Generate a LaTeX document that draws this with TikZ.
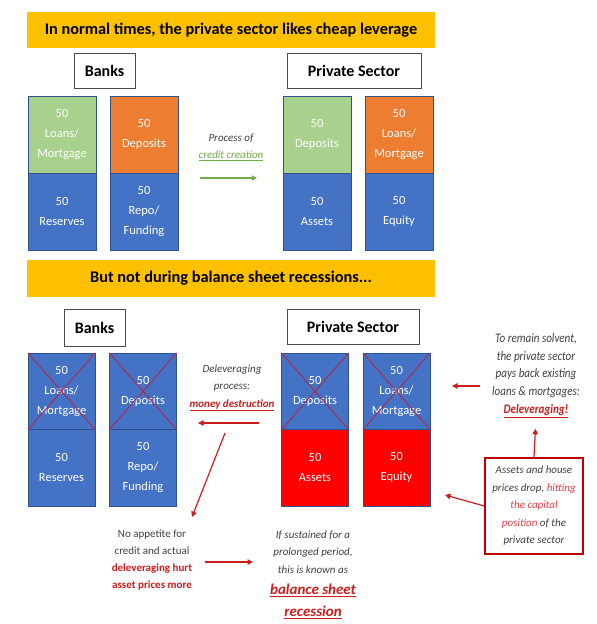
\documentclass[tikz,border=0pt]{standalone}
\usepackage{fontspec}
\setmainfont{Carlito}
\newfontfamily\narrowfont[FakeStretch=0.85]{Carlito}
\usepackage{xcolor}
\usetikzlibrary{arrows.meta,positioning}
\definecolor{bannery}{HTML}{FFC000}
\definecolor{cellblue}{HTML}{4472C4}
\definecolor{cellgreen}{HTML}{A9D18E}
\definecolor{cellorange}{HTML}{ED7D31}
\definecolor{cellred}{HTML}{FF0000}
\definecolor{cellline}{HTML}{2F528F}
\definecolor{xred}{HTML}{B0284A}
\definecolor{txtgray}{HTML}{404040}
\definecolor{arrred}{HTML}{CC1E1E}
\definecolor{arrgreen}{HTML}{70AD47}
\definecolor{boxred}{HTML}{C00000}
\definecolor{pinkred}{HTML}{E8404A}

\tikzset{
  banner/.style={fill=bannery, minimum width=408pt, minimum height=36pt, inner sep=0pt,
    font=\fontsize{16.3}{19}\selectfont\bfseries},
  sectorbox/.style={draw=black!70, line width=0.6pt, fill=white, minimum height=35pt,
    inner sep=0pt, font=\fontsize{16}{19}\selectfont\bfseries},
  cell/.style={draw=cellline, line width=0.6pt, text=white, align=center, outer sep=0pt,
    minimum width=68pt, minimum height=77pt, inner sep=0pt, font=\fontsize{12.5}{20}\selectfont},
  note/.style={align=center, text=txtgray, inner sep=0pt, font=\fontsize{11}{17.5}\selectfont\itshape},
  plainnote/.style={note, font=\fontsize{11}{17}\selectfont\upshape},
  redarrow/.style={draw=arrred, line width=1.2pt, -{Triangle[length=5.5pt,width=5.5pt]}},
  greenarrow/.style={draw=arrgreen, line width=1.1pt, -{Triangle[length=5pt,width=5pt]}},
  xline/.style={draw=xred, line width=0.9pt}
}

\begin{document}
\begin{tikzpicture}[x=1pt, y=-1pt]
\fill[white] (0,0) rectangle (597,624);
\useasboundingbox (0,0) rectangle (597,624);

% normal times
\node[banner] (ban1) at (231,30) {In normal times, the private sector likes cheap leverage};
\node[sectorbox, minimum width=61pt] (banks1) at (104.5,71) {Banks};
\node[sectorbox, minimum width=134pt] (ps1) at (354,71) {Private Sector};

\node[cell, fill=cellgreen] (b1top) at (62,134.5) {50\\Loans/\\Mortgage};
\node[cell, fill=cellblue, below=0pt of b1top] (b1bot) {50\\Reserves};
\node[cell, fill=cellorange] (b2top) at (144,134.5) {50\\Deposits};
\node[cell, fill=cellblue, below=0pt of b2top] (b2bot) {50\\Repo/\\Funding};
\node[cell, fill=cellgreen] (p1top) at (317,134.5) {50\\Deposits};
\node[cell, fill=cellblue, below=0pt of p1top] (p1bot) {50\\Assets};
\node[cell, fill=cellorange] (p2top) at (399,134.5) {50\\Loans/\\Mortgage};
\node[cell, fill=cellblue, below=0pt of p2top] (p2bot) {50\\Equity};

\node[note] (proc) at (231,147.5) {Process of\\\textcolor{arrgreen}{\underline{credit creation}}};
\coordinate (cc1) at (200,178);
\coordinate (cc2) at (257,178);
\draw[greenarrow] (cc1) -- (cc2);

% balance sheet recessions
\node[banner, minimum height=37pt] (ban2) at (231,278.5) {But not during balance sheet recessions...};
\node[sectorbox, minimum width=61pt, minimum height=37pt] (banks2) at (94.5,327.5) {Banks};
\node[sectorbox, minimum width=132pt] (ps2) at (353,326.5) {Private Sector};

\node[cell, fill=cellblue, minimum width=67pt, minimum height=76.5pt] (b3top) at (61.5,391.25) {50\\Loans/\\Mortgage};
\node[cell, fill=cellblue, minimum width=67pt, minimum height=76.5pt, below=0pt of b3top] (b3bot) {50\\Reserves};
\node[cell, fill=cellblue, minimum width=67pt, minimum height=76.5pt] (b4top) at (143,391.25) {50\\Deposits};
\node[cell, fill=cellblue, minimum width=67pt, minimum height=76.5pt, below=0pt of b4top] (b4bot) {50\\Repo/\\Funding};
\node[cell, fill=cellblue, minimum width=67pt, minimum height=76.5pt] (p3top) at (315,391.25) {50\\Deposits};
\node[cell, fill=cellred, minimum width=67pt, minimum height=76.5pt, below=0pt of p3top] (p3bot) {50\\Assets};
\node[cell, fill=cellblue, minimum width=67pt, minimum height=76.5pt] (p4top) at (396.5,391.25) {50\\Loans/\\Mortgage};
\node[cell, fill=cellred, minimum width=67pt, minimum height=76.5pt, below=0pt of p4top] (p4bot) {50\\Equity};

\foreach \n in {b3top,b4top,p3top,p4top}
  \draw[xline] (\n.north west) -- (\n.south east) (\n.north east) -- (\n.south west);

\node[note] (delev) at (232,388) {Deleveraging\\process:\\\textcolor{arrred}{\bfseries\underline{money destruction}}};
\coordinate (md1) at (259,423);
\coordinate (md2) at (198,423);
\draw[redarrow] (md1) -- (md2);
\coordinate (dg1) at (225,433);
\coordinate (dg2) at (192,517);
\draw[redarrow] (dg1) -- (dg2);

\node[plainnote] (appet) at (152,560.5) {No appetite for\\credit and actual\\\textcolor{arrred}{\bfseries deleveraging hurt}\\\textcolor{arrred}{\bfseries asset prices more}};
\coordinate (ap1) at (205,562);
\coordinate (ap2) at (253,562);
\draw[redarrow] (ap1) -- (ap2);

\node[note] (sust) at (313,552) {If sustained for a\\prolonged period,\\this is known as};
\node[note, text=arrred, font=\fontsize{15}{22}\selectfont\bfseries\itshape] (bsr) at (313,601)
  {\underline{balance sheet}\\\underline{recession}};

\node[note, font=\narrowfont\fontsize{13}{17.75}\selectfont\itshape] (solv) at (536,375.5)
  {To remain solvent,\\the private sector\\pays back existing\\loans \& mortgages:\\\textcolor{arrred}{\bfseries\underline{Deleveraging!}}};
\coordinate (sv1) at (480,386);
\coordinate (sv2) at (452,386);
\draw[redarrow] (sv1) -- (sv2);

\node[note, draw=boxred, line width=1.6pt, minimum width=98pt, minimum height=96pt] (hitbox) at (534,506)
  {Assets and house\\prices drop, \textcolor{pinkred}{hitting}\\\textcolor{pinkred}{the capital}\\\textcolor{pinkred}{position} of the\\private sector};
\draw[redarrow, shorten >=11pt] (hitbox.north) -- (solv.south);
\coordinate (eq1) at (445,495);
\draw[redarrow] (hitbox.west) -- (eq1);
\end{tikzpicture}
\end{document}
